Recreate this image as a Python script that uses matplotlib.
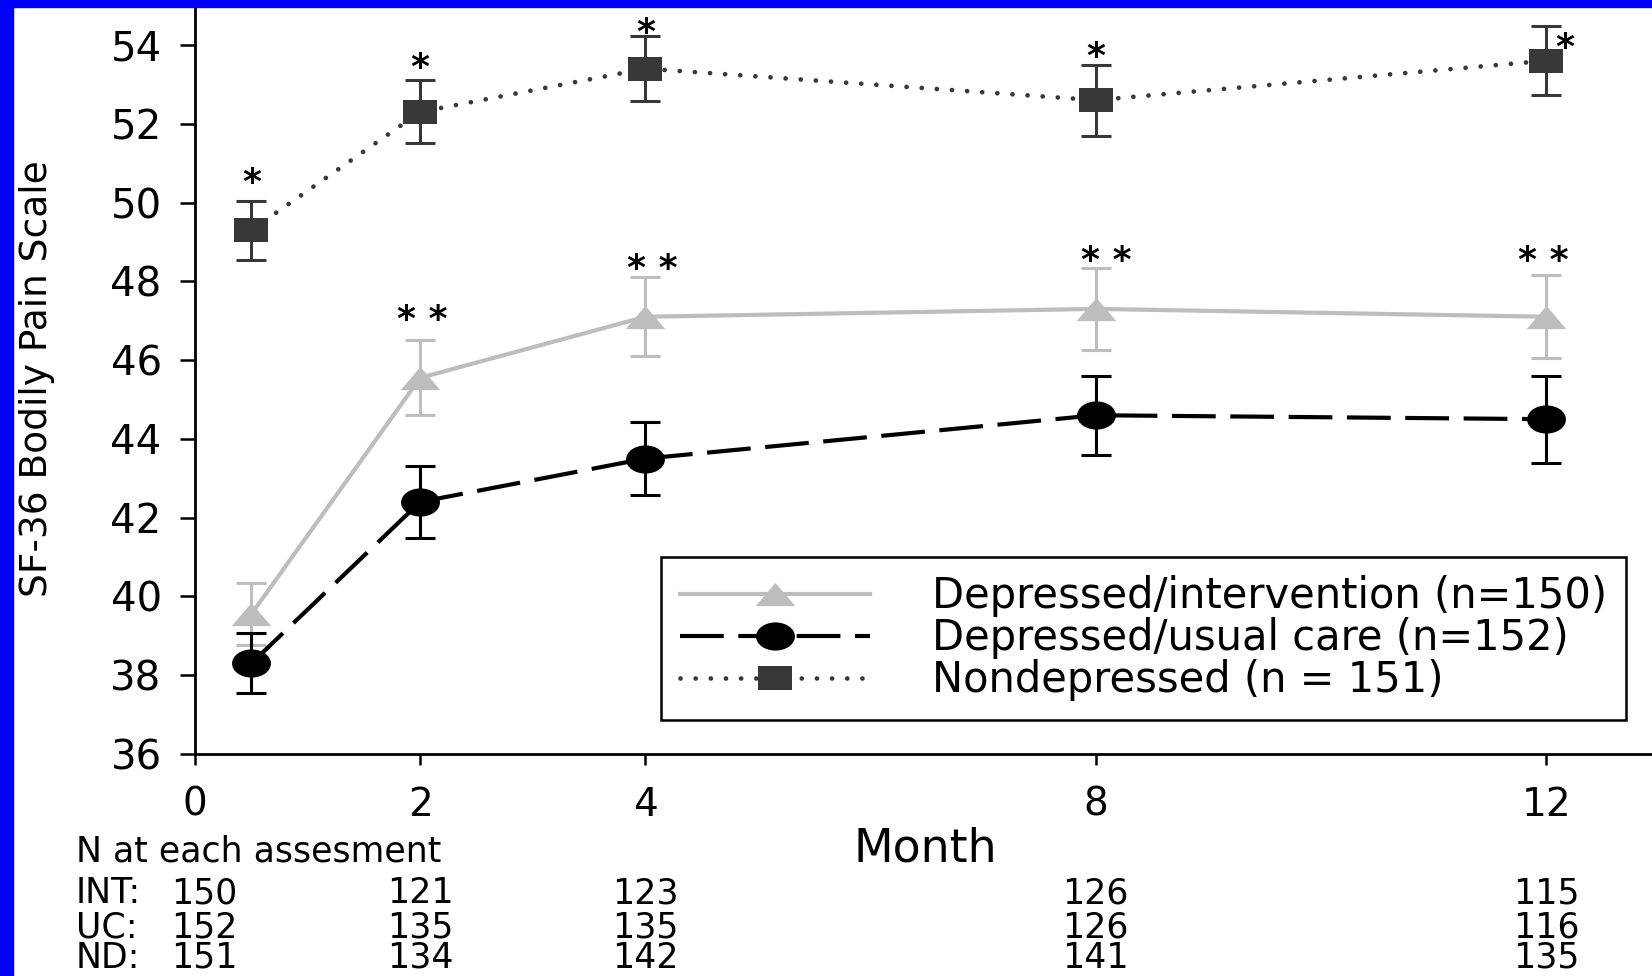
import matplotlib
matplotlib.use('Agg')
import matplotlib.pyplot as plt
import matplotlib.transforms as mtransforms
from matplotlib.path import Path
from matplotlib.transforms import Affine2D
from matplotlib.patches import Rectangle

plt.rcParams['font.family'] = ['DejaVu Sans']

# SF-36 bodily pain means (+/- SE) by month
months = [0.5, 2, 4, 8, 12]
int_mean = [39.55, 45.55, 47.1, 47.3, 47.1]
int_err = [0.78, 0.95, 1.0, 1.05, 1.05]
uc_mean = [38.3, 42.4, 43.5, 44.6, 44.5]
uc_err = [0.76, 0.92, 0.92, 1.0, 1.1]
nd_mean = [49.3, 52.3, 53.4, 52.6, 53.6]
nd_err = [0.75, 0.8, 0.82, 0.9, 0.87]

int_stars = ['', '* *', '* *', '* *', '* *']
nd_stars = ['*', '*', '*', '*', '*']

labels = ['Depressed/intervention (n=150)',
          'Depressed/usual care (n=152)',
          'Nondepressed (n = 151)']

# sample sizes at each assessment
n_rows = ['INT:', 'UC:', 'ND:']
n_int = [150, 121, 123, 126, 115]
n_uc = [152, 135, 135, 126, 116]
n_nd = [151, 134, 142, 141, 135]
n_cols = [0.08, 2, 4, 8, 12]

W, H = 1652, 976
fig = plt.figure(figsize=(W / 100, H / 100), dpi=100)
fig.patch.set_facecolor('white')

px_x = 112.6   # pixels per month
px_y = 39.39   # pixels per scale point
ax = fig.add_axes([195 / W, 222 / H, 13 * px_x / W, 19 * px_y / H])

light = '#bdbdbd'
dark = '#383838'

# stretched marker shapes
ellipse = Affine2D().scale(1.38, 1.0).transform_path(Path.unit_circle())
rect = Affine2D().translate(-0.5, -0.5).scale(1.4, 1.0).transform_path(Path.unit_rectangle())
tri = Path([(-0.85, -0.5), (0.85, -0.5), (0.0, 0.5), (-0.85, -0.5)],
           [Path.MOVETO, Path.LINETO, Path.LINETO, Path.CLOSEPOLY])

ax.errorbar(months, int_mean, yerr=int_err, fmt='none', ecolor=light,
            elinewidth=2.2, capsize=11, capthick=2.2, zorder=2)
l_int, = ax.plot(months, int_mean, color=light, lw=3, marker=tri,
                 markersize=28.5, markeredgewidth=0, zorder=3)

ax.errorbar(months, uc_mean, yerr=uc_err, fmt='none', ecolor='black',
            elinewidth=2.2, capsize=11, capthick=2.2, zorder=4)
l_uc, = ax.plot(months, uc_mean, color='black', lw=3, dashes=(10.5, 3.5),
                marker=ellipse, markersize=28, markeredgewidth=0, zorder=5)

ax.errorbar(months, nd_mean, yerr=nd_err, fmt='none', ecolor=dark,
            elinewidth=2.2, capsize=11, capthick=2.2, zorder=4)
l_nd, = ax.plot(months, nd_mean, color=dark, lw=3.4, linestyle=(0, (0.01, 3.2)),
                dash_capstyle='round', marker=rect, markersize=25,
                markeredgewidth=0, zorder=5)

# significance stars: glyph lift above the error bar (px) and sideways shift
star_size = 26
nd_lift = [28, 23, 14, 18, -11]
nd_shift = [0, 0, 0, 0, 19]
int_lift = [0, 31, 19, 17, 25]
int_shift = [0, 2, 7, 11, -3]
for x, m, e, s, lift, dx in zip(months, nd_mean, nd_err, nd_stars, nd_lift, nd_shift):
    ax.annotate(s, (x, m + e), xytext=(dx / 1.389, lift / 1.389 - 0.57 * star_size),
                textcoords='offset points', ha='center', va='baseline',
                fontsize=star_size, fontweight='bold', annotation_clip=False)
for x, m, e, s, lift, dx in zip(months, int_mean, int_err, int_stars, int_lift, int_shift):
    if s:
        ax.annotate(s, (x, m + e), xytext=(dx / 1.389, lift / 1.389 - 0.57 * star_size),
                    textcoords='offset points', ha='center', va='baseline',
                    fontsize=star_size, fontweight='bold')

ax.set_xlim(0, 13)
ax.set_ylim(36, 55)
ax.set_xticks([0, 2, 4, 8, 12])
ax.set_yticks(range(36, 55, 2))
for side in ['top', 'right']:
    ax.spines[side].set_visible(False)
for side in ['left', 'bottom']:
    ax.spines[side].set_linewidth(2.0)
ax.tick_params(axis='y', direction='out', length=11, width=1.8, pad=13, labelsize=29)
ax.tick_params(axis='x', direction='out', length=8, width=1.8, pad=15, labelsize=28)

leg = ax.legend([l_int, l_uc, l_nd], labels, loc='lower right',
                bbox_to_anchor=(1626 / W, 1 - 720 / H), bbox_transform=fig.transFigure,
                borderaxespad=0, fontsize=30, numpoints=1, handlelength=4.55,
                handletextpad=1.5, labelspacing=0.0, borderpad=0.45,
                fancybox=False, framealpha=1)
leg.get_frame().set_edgecolor('black')
leg.get_frame().set_linewidth(1.8)

fig.text(925 / W, 1 - 862 / H, 'Month', ha='center', va='baseline', fontsize=33)
fig.text(37 / W, 1 - 379 / H, 'SF-36 Bodily Pain Scale', rotation=90,
         ha='center', va='center', fontsize=27)

# N table below the axis
fig.text(76 / W, 1 - 862 / H, 'N at each assesment', ha='left', va='baseline', fontsize=25)
row_tf = mtransforms.blended_transform_factory(ax.transData, fig.transFigure)
for row, vals, base in zip(n_rows, [n_int, n_uc, n_nd], [903, 937, 968]):
    fig.text(76 / W, 1 - base / H, row, ha='left', va='baseline', fontsize=25)
    for x, v in zip(n_cols, vals):
        ax.text(x, 1 - base / H, str(v), transform=row_tf, ha='center',
                va='baseline', fontsize=25, clip_on=False)

# blue frame along the left and top edges
fig.add_artist(Rectangle((0, 0), 13 / W, 1, transform=fig.transFigure,
                         color='#0000ff', zorder=10))
fig.add_artist(Rectangle((0, 1 - 7 / H), 1, 7 / H, transform=fig.transFigure,
                         color='#0000ff', zorder=10))

fig.savefig('out.png', dpi=100)
